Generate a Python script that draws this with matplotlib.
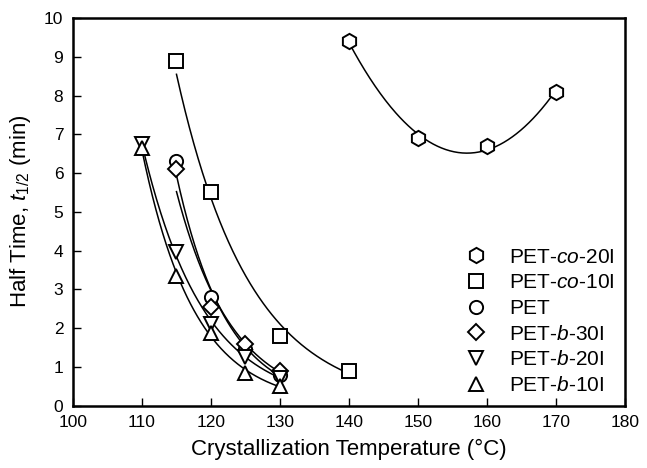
import matplotlib
matplotlib.use("Agg")
import matplotlib.pyplot as plt
import numpy as np

plt.rcParams['font.family'] = ['Liberation Sans', 'DejaVu Sans']
plt.rcParams['mathtext.fontset'] = 'custom'
plt.rcParams['mathtext.rm'] = 'Liberation Sans'
plt.rcParams['mathtext.it'] = 'Liberation Sans:italic'

# data
t_co20 = np.array([140, 150, 160, 170])
h_co20 = np.array([9.4, 6.9, 6.7, 8.1])
t_co10 = np.array([115, 120, 130, 140])
h_co10 = np.array([8.9, 5.5, 1.8, 0.9])
t_pet = np.array([115, 120, 125, 130])
h_pet = np.array([6.3, 2.8, 1.45, 0.8])
t_b30 = np.array([115, 120, 125, 130])
h_b30 = np.array([6.1, 2.55, 1.6, 0.9])
t_b20 = np.array([110, 115, 120, 125, 130])
h_b20 = np.array([6.75, 3.95, 2.1, 1.25, 0.72])
t_b10 = np.array([110, 115, 120, 125, 130])
h_b10 = np.array([6.65, 3.35, 1.88, 0.85, 0.5])

series = [
    (t_co20, h_co20, 'h', r'PET-$\it{co}$-20I'),
    (t_co10, h_co10, 's', r'PET-$\it{co}$-10I'),
    (t_pet, h_pet, 'o', 'PET'),
    (t_b30, h_b30, 'D', r'PET-$\it{b}$-30I'),
    (t_b20, h_b20, 'v', r'PET-$\it{b}$-20I'),
    (t_b10, h_b10, '^', r'PET-$\it{b}$-10I'),
]
sizes = {'h': 11, 's': 9.5, 'o': 9.5, 'D': 8.5, 'v': 9.5, '^': 9.5}

fig = plt.figure(figsize=(6.47, 4.68), dpi=100)
ax = fig.add_axes([0.1128, 0.1335, 0.8532, 0.828])

for i, (t, h, m, lab) in enumerate(series):
    tt = np.linspace(t.min(), t.max(), 200)
    if i == 0:
        c = np.polyfit(t, h, 2)
        hh = np.polyval(c, tt)
    else:
        # exponential decay fit
        c = np.polyfit(t, np.log(h), 1)
        hh = np.exp(np.polyval(c, tt))
    ax.plot(tt, hh, color='black', lw=1.1, zorder=1)
    ax.plot(t, h, m, mfc='white', mec='black', mew=1.4, ms=sizes[m],
            label=lab, zorder=2, ls='none')

ax.set_xlim(100, 180)
ax.set_ylim(0, 10)
ax.set_xticks(np.arange(100, 181, 10))
ax.set_yticks(np.arange(0, 11, 1))
ax.tick_params(direction='in', length=6, labelsize=12.5, width=1, pad=7)
for s in ax.spines.values():
    s.set_linewidth(1.8)

ax.set_xlabel('Crystallization Temperature (°C)', fontsize=16, labelpad=6)
ax.set_ylabel(r'Half Time, $t_{1/2}$ (min)', fontsize=16, labelpad=8)

ax.legend(loc='lower right', bbox_to_anchor=(1.0, 0.0), frameon=False,
          fontsize=15, handletextpad=1.1, labelspacing=0.32,
          borderaxespad=0.3, handlelength=1.0, borderpad=0.2)

fig.savefig('out.png', dpi=100)
